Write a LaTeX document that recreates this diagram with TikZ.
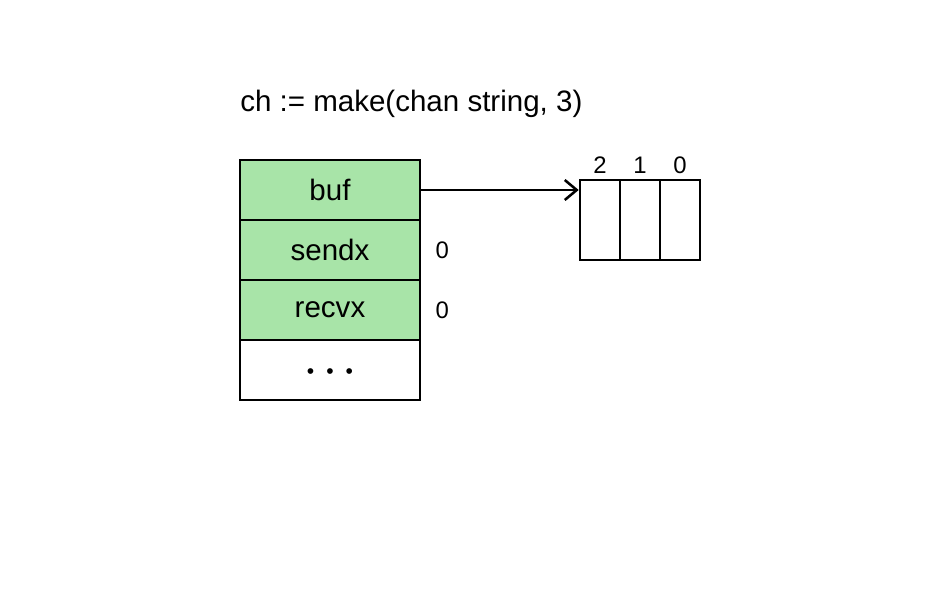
\documentclass[tikz,border=0pt]{standalone}
\usepackage{fontspec}
\setmainfont{Liberation Sans}
\usetikzlibrary{positioning,arrows.meta}
\definecolor{fieldgreen}{RGB}{168,228,168}
\begin{document}
\begin{tikzpicture}[
        field/.style={draw,line width=1.8pt,minimum width=4.5cm,minimum height=1.5cm,font=\fontsize{21}{25}\selectfont},
        slot/.style={draw,line width=1.8pt,minimum width=1cm,minimum height=2cm},
        idx/.style={inner sep=0pt,font=\fontsize{17}{20}\selectfont}]
    \useasboundingbox (0,0) rectangle (23.225,14.8);
    \node[anchor=base west,inner sep=0pt,font=\fontsize{21}{25}\selectfont] (title) at (6,12) {ch := make(chan string, 3)};
    % hchan fields
    \node[field,fill=fieldgreen] (buf) at (8.25,10.05) {buf};
    \node[field,fill=fieldgreen] (sendx) at (8.25,8.55) {sendx};
    \node[field,fill=fieldgreen] (recvx) at (8.25,7.05) {recvx};
    \node[field] (rest) at (8.25,5.55) {};
    \node[font=\fontsize{15}{18}\selectfont,yshift=-0.08cm] (dots) at (rest) {•\hspace{0.3cm}•\hspace{0.3cm}•};
    \node[idx,right=0.35cm of sendx] (sendxval) {0};
    \node[idx,right=0.35cm of recvx] (recvxval) {0};
    % ring buffer
    \foreach \i/\x in {2/15,1/16,0/17} {
        \node[slot] (cell\i) at (\x,9.3) {};
        \node[idx,above=0.12cm of cell\i] (num\i) {\i};
    }
    \draw[line width=1.8pt,-{Straight Barb[length=0.3cm,width=0.5cm]}] (buf.east) -- (buf.east -| cell2.west);
\end{tikzpicture}
\end{document}
